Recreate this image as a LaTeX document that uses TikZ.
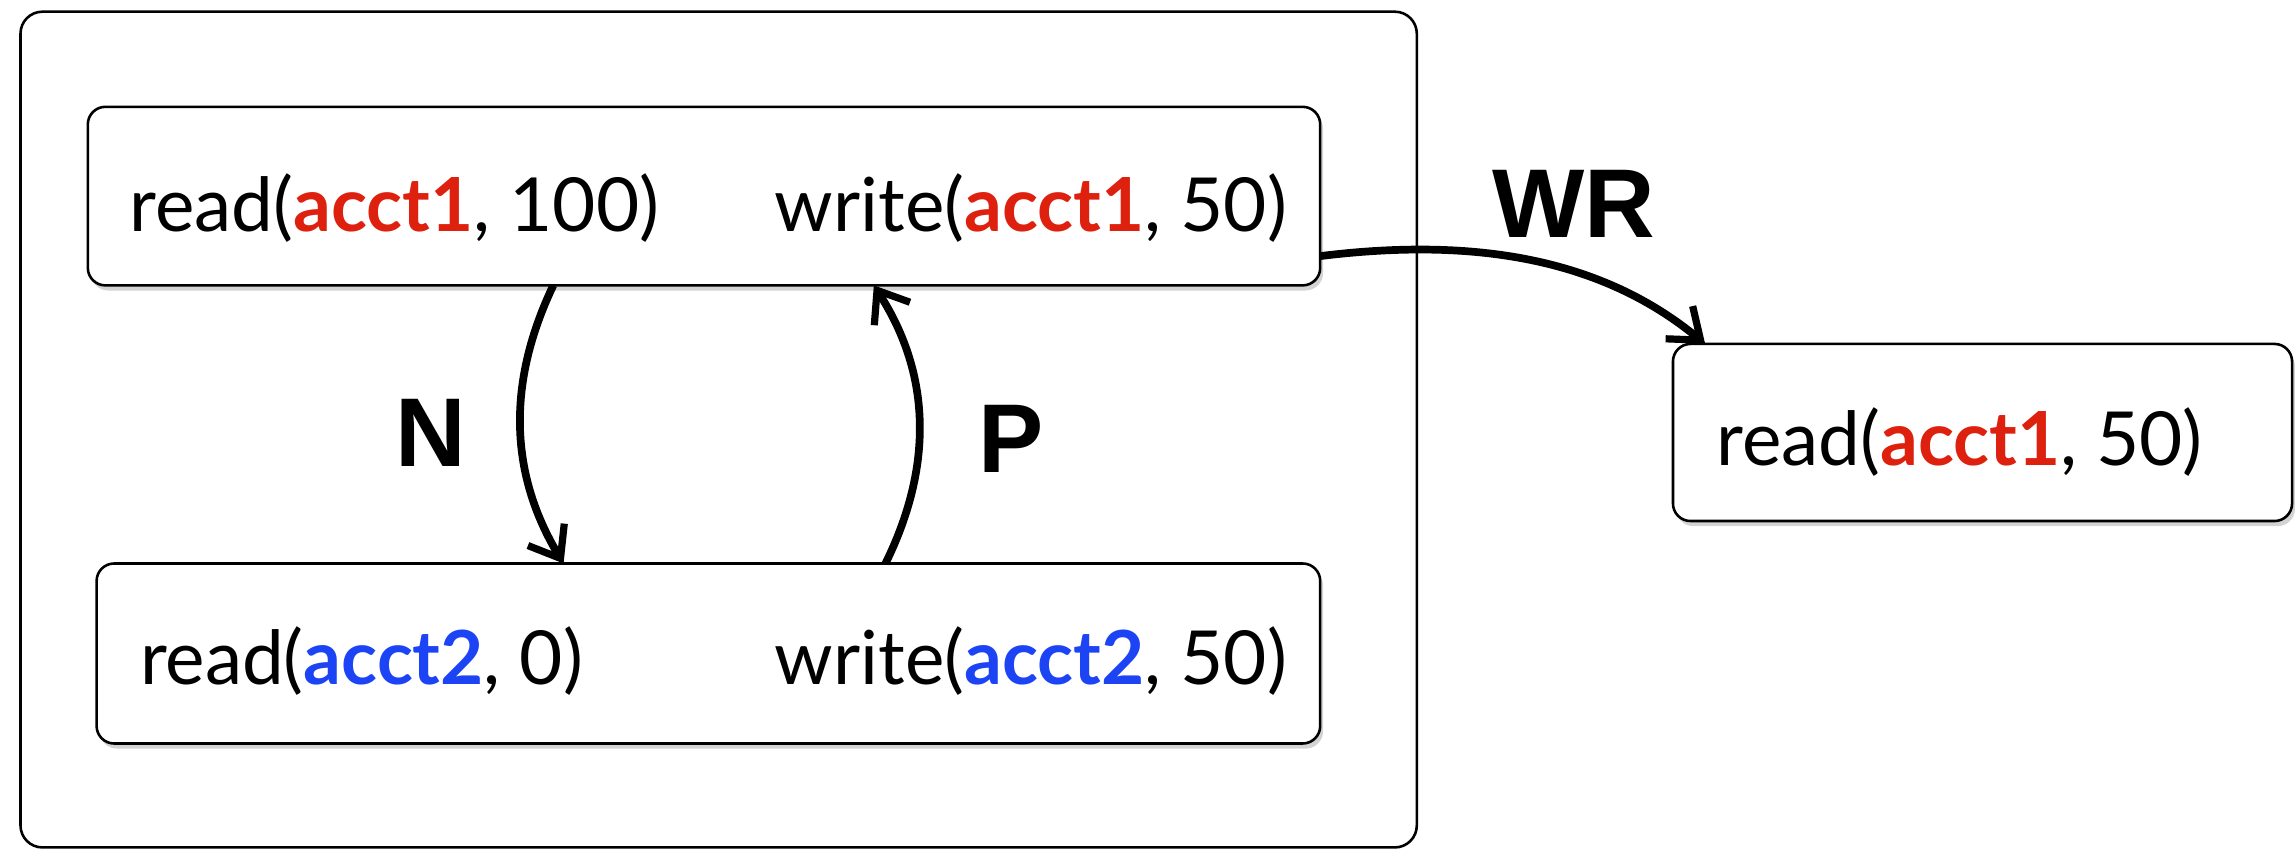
\documentclass[tikz,border=0pt]{standalone}
\usepackage{fontspec}
\setmainfont{Lato}
\newfontfamily\labfont{Liberation Sans}
\usetikzlibrary{arrows.meta,calc,shadows}
\definecolor{acred}{RGB}{222,32,14}
\definecolor{acblue}{RGB}{28,68,245}
\begin{document}
\begin{tikzpicture}[x=0.1mm,y=-0.1mm,
  outerbox/.style={draw, line width=0.5pt, rounded corners=1.5mm, inner sep=0pt, outer sep=0pt},
  opbox/.style={draw, line width=0.5pt, rounded corners=1.2mm, fill=white, inner sep=0pt, outer sep=0pt,
    drop shadow={shadow xshift=0.2mm, shadow yshift=-0.35mm, opacity=0.35}},
  txt/.style={inner sep=0pt, font=\fontsize{14.5}{16}\selectfont},
  lab/.style={inner sep=0pt, font=\labfont\bfseries\fontsize{19}{22}\selectfont},
  conn/.style={line width=1.5pt, -{Straight Barb[length=1.9mm,width=2.9mm,line width=1.4pt]}}
]
\useasboundingbox (0,0) rectangle (1568,581);
\node[outerbox, minimum width=95.4mm, minimum height=57.1mm] (outer) at (491,293.5) {};
\node[opbox, minimum width=84.2mm, minimum height=12.2mm] (top) at (481,134) {};
\node[opbox, minimum width=83.6mm, minimum height=12.3mm] (bot) at (484,446.5) {};
\node[opbox, minimum width=42.3mm, minimum height=12.1mm] (rt) at (1354.5,295.5) {};

\node[txt, anchor=base west] (r1) at (88,158) {read(\textcolor{acred}{\bfseries acct1}, 100)};
\node[txt, anchor=base east] (w1) at (880,158) {write(\textcolor{acred}{\bfseries acct1}, 50)};
\node[txt, anchor=base west] (r2) at (95,468) {read(\textcolor{acblue}{\bfseries acct2}, 0)};
\node[txt, anchor=base east] (w2) at (880,468) {write(\textcolor{acblue}{\bfseries acct2}, 50)};
\node[txt, anchor=base west] (r3) at (1172,318) {read(\textcolor{acred}{\bfseries acct1}, 50)};

\node[lab] (nlab) at (294,296) {N};
\node[lab] (plab) at (691,300) {P};
\node[lab] (wrlab) at (1075,139) {WR};

\coordinate (nS) at ($(top.south west)!0.3777!(top.south east)$);
\coordinate (nE) at ($(bot.north west)!0.3816!(bot.north east)$);
\coordinate (pS) at ($(bot.north west)!0.6447!(bot.north east)$);
\coordinate (pE) at ($(top.south west)!0.6378!(top.south east)$);
\coordinate (wS) at ($(top.north east)!0.836!(top.south east)$);
\coordinate (wE) at ($(rt.north west)!0.052!(rt.north east)$);

\draw[conn] (nS) .. controls +(-31,65) and +(-38,-63) .. (nE);
\draw[conn] (pS) .. controls +(32,-65) and +(40,62) .. (pE);
\draw[conn] (wS) .. controls +(97,-12) and +(-75,-62) .. (wE);
\end{tikzpicture}
\end{document}
